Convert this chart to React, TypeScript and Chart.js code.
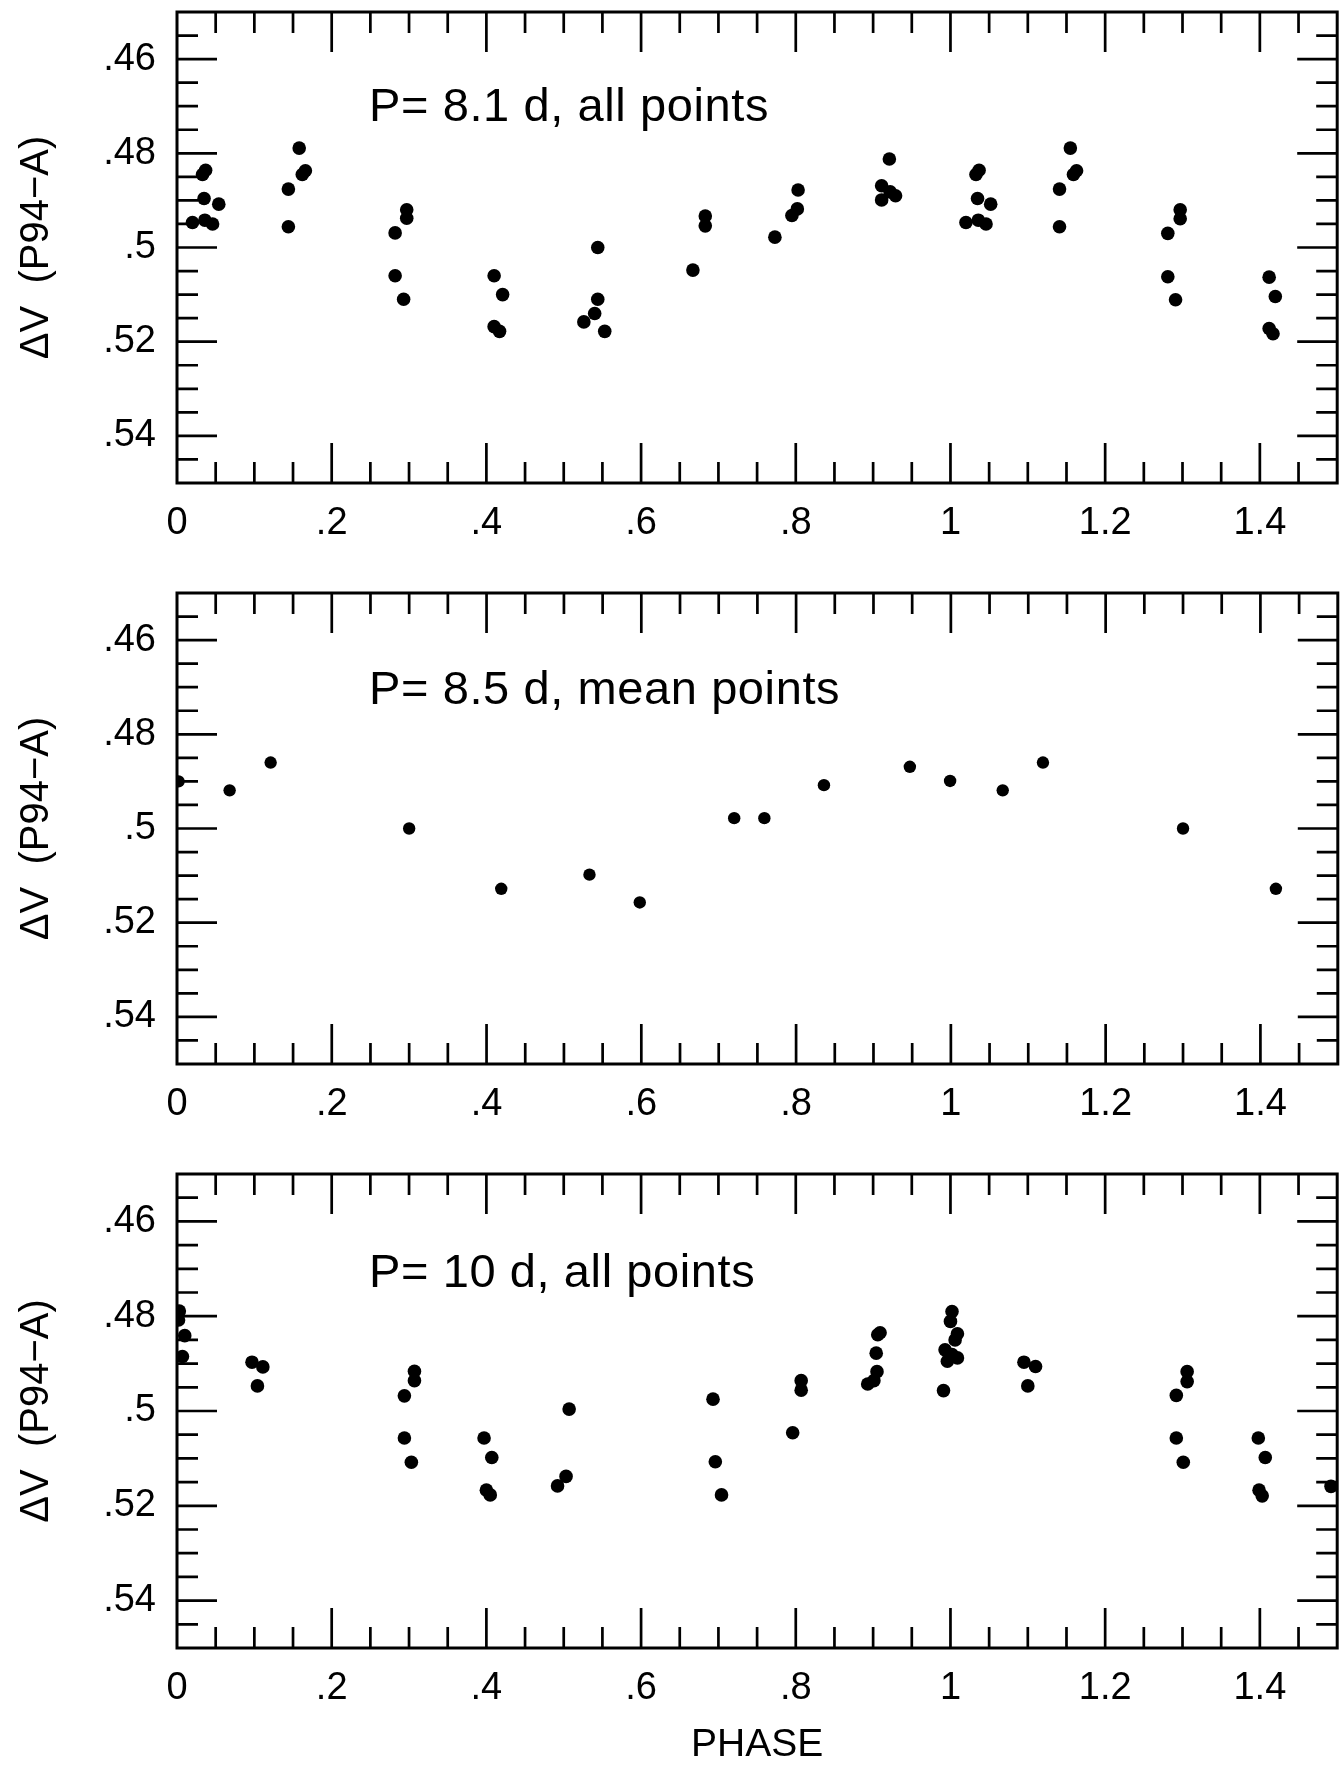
import React, { useEffect, useRef } from "react";
import { Chart, registerables } from "chart.js";

Chart.register(...registerables);

// ---------- data ----------
const X_TICKS = [0, 0.2, 0.4, 0.6, 0.8, 1.0, 1.2, 1.4];
const X_TICK_LABELS = ["0", ".2", ".4", ".6", ".8", "1", "1.2", "1.4"];
const Y_TICKS = [0.46, 0.48, 0.5, 0.52, 0.54];
const Y_TICK_LABELS = [".46", ".48", ".5", ".52", ".54"];
const X_MINOR_STEP = 0.05;
const Y_MINOR_STEP = 0.005;

const P1_LABEL = "P= 8.1 d, all points";
const P1_PHASE = [
  0.02, 0.033, 0.037, 0.035, 0.054, 0.036, 0.046, 0.144, 0.144, 0.158, 0.162, 0.166,
  0.282, 0.297, 0.297, 0.282, 0.293, 0.41, 0.421, 0.41, 0.417, 0.544, 0.544, 0.54,
  0.526, 0.553, 0.667, 0.683, 0.683, 0.773, 0.795, 0.802, 0.803, 0.921, 0.911, 0.911,
  0.922, 0.929, 1.02, 1.033, 1.037, 1.035, 1.052, 1.036, 1.046, 1.141, 1.141, 1.155,
  1.159, 1.163, 1.281, 1.297, 1.297, 1.281, 1.291, 1.412, 1.42, 1.412, 1.417,
];
const P1_DV = [
  0.4947, 0.4845, 0.4836, 0.4896, 0.4908, 0.4942, 0.495, 0.4876, 0.4956, 0.4789, 0.4845, 0.4837,
  0.4969, 0.492, 0.4938, 0.506, 0.511, 0.506, 0.51, 0.5168, 0.5178, 0.5, 0.511, 0.514,
  0.5158, 0.5178, 0.5048, 0.4933, 0.4954, 0.4978, 0.4932, 0.4918, 0.4878, 0.4812, 0.4869, 0.4899,
  0.4882, 0.489, 0.4947, 0.4845, 0.4836, 0.4896, 0.4908, 0.4942, 0.495, 0.4876, 0.4956, 0.4789,
  0.4845, 0.4837, 0.497, 0.492, 0.4939, 0.5062, 0.5111, 0.5063, 0.5104, 0.5172, 0.5183,
];

const P2_LABEL = "P= 8.5 d, mean points";
const P2_PHASE = [
  0.002, 0.068, 0.121, 0.3, 0.419, 0.533, 0.598, 0.72, 0.759, 0.836, 0.947, 0.999,
  1.067, 1.119, 1.3, 1.42,
];
const P2_DV = [
  0.49, 0.4919, 0.486, 0.5, 0.5128, 0.5098, 0.5157, 0.4978, 0.4978, 0.4908, 0.4869, 0.4899,
  0.4919, 0.486, 0.5, 0.5128,
];

const P3_LABEL = "P= 10 d, all points";
const P3_PHASE = [
  0.003, 0.002, 0.01, 0.007, 0.097, 0.111, 0.104, 0.294, 0.307, 0.307, 0.294, 0.303,
  0.397, 0.407, 0.4, 0.405, 0.507, 0.503, 0.492, 0.693, 0.696, 0.704, 0.796, 0.807,
  0.807, 0.893, 0.901, 0.905, 0.904, 0.906, 0.909, 0.991, 1.002, 1.0, 1.009, 1.006,
  0.993, 1.002, 1.009, 0.996, 1.095, 1.11, 1.1, 1.292, 1.306, 1.306, 1.292, 1.301,
  1.398, 1.407, 1.399, 1.403, 1.492,
];
const P3_DV = [
  0.4789, 0.4808, 0.4841, 0.4885, 0.4897, 0.4907, 0.4947, 0.4968, 0.4916, 0.4936, 0.5057, 0.5108,
  0.5057, 0.5098, 0.5167, 0.5177, 0.4996, 0.5138, 0.5158, 0.4975, 0.5107, 0.5177, 0.5046, 0.4936,
  0.4956, 0.4943, 0.4936, 0.4917, 0.4878, 0.4839, 0.4835, 0.4957, 0.479, 0.4811, 0.4837, 0.485,
  0.4871, 0.4881, 0.4888, 0.4895, 0.4897, 0.4906, 0.4947, 0.4967, 0.4917, 0.4938, 0.5057, 0.5108,
  0.5057, 0.5098, 0.5167, 0.5179, 0.5159,
];

const Y_TITLE = "\u0394V  (P94\u2212A)";
const X_TITLE = "PHASE";

// ---------- styling ----------
const FONT = "'Liberation Sans', Arial, Helvetica, sans-serif";
const INK = "#000";

const framePlugin = {
  id: "frame",
  beforeDatasetsDraw(chart: any, _args: any, opts: any) {
    const { ctx, chartArea: a, scales } = chart;
    const xs = scales.x;
    const ys = scales.y;
    ctx.save();
    ctx.strokeStyle = INK;
    ctx.lineCap = "butt";
    // ticks
    ctx.lineWidth = 2.7;
    const LONG = 40;
    const SHORT = 21;
    const isMajor = (v: number, arr: number[]) => arr.some((t) => Math.abs(t - v) < 1e-9);
    ctx.beginPath();
    for (let i = 1; i * X_MINOR_STEP < xs.max - 1e-9; i++) {
      const v = Math.round(i * X_MINOR_STEP * 1000) / 1000;
      const len = isMajor(v, X_TICKS) ? LONG : SHORT;
      const px = xs.getPixelForValue(v);
      ctx.moveTo(px, a.bottom);
      ctx.lineTo(px, a.bottom - len);
      ctx.moveTo(px, a.top);
      ctx.lineTo(px, a.top + len);
    }
    for (let i = 1; ys.min + i * Y_MINOR_STEP < ys.max - 1e-9; i++) {
      const v = Math.round((ys.min + i * Y_MINOR_STEP) * 10000) / 10000;
      const len = isMajor(v, Y_TICKS) ? LONG : SHORT;
      const py = ys.getPixelForValue(v);
      ctx.moveTo(a.left, py);
      ctx.lineTo(a.left + len, py);
      ctx.moveTo(a.right, py);
      ctx.lineTo(a.right - len, py);
    }
    ctx.stroke();
    // frame
    ctx.lineWidth = 3;
    ctx.strokeRect(a.left, a.top, a.right - a.left, a.bottom - a.top);
    // annotation
    if (opts && opts.label) {
      ctx.fillStyle = INK;
      ctx.font = `47px ${FONT}`;
      try {
        (ctx as any).letterSpacing = "0.6px";
      } catch (e) {}
      ctx.textAlign = "left";
      ctx.textBaseline = "alphabetic";
      ctx.fillText(opts.label, a.left + 192, a.top + opts.baseline);
    }
    ctx.restore();
  },
};

type PanelDef = {
  phase: number[];
  dv: number[];
  label: string;
  baseline: number;
  radius: number;
  top: number;
  height: number;
  xAxisHeight: number;
  showXTitle: boolean;
};

const PANELS: PanelDef[] = [
  { phase: P1_PHASE, dv: P1_DV, label: P1_LABEL, baseline: 109, radius: 6.8, top: 0, height: 581, xAxisHeight: 98, showXTitle: false },
  { phase: P2_PHASE, dv: P2_DV, label: P2_LABEL, baseline: 111, radius: 6.2, top: 581, height: 581, xAxisHeight: 98, showXTitle: false },
  { phase: P3_PHASE, dv: P3_DV, label: P3_LABEL, baseline: 113, radius: 6.8, top: 1162, height: 603, xAxisHeight: 117, showXTitle: true },
];

function Panel({ def }: { def: PanelDef }) {
  const ref = useRef<HTMLCanvasElement | null>(null);
  useEffect(() => {
    if (!ref.current) return;
    const data = def.phase.map((x, i) => ({ x, y: def.dv[i] }));
    const chart = new Chart(ref.current, {
      type: "scatter",
      data: {
        datasets: [
          {
            data,
            pointRadius: def.radius,
            pointBackgroundColor: INK,
            pointBorderWidth: 0,
            pointHoverRadius: def.radius,
            clip: 0,
          } as any,
        ],
      },
      options: {
        animation: false,
        responsive: false,
        devicePixelRatio: 1,
        events: [],
        layout: { padding: { left: 0, right: 5, top: 12, bottom: 0 } },
        plugins: {
          legend: { display: false },
          tooltip: { enabled: false },
          frame: { label: def.label, baseline: def.baseline },
        } as any,
        scales: {
          x: {
            type: "linear",
            position: "bottom",
            min: 0,
            max: 1.5,
            afterBuildTicks: (s: any) => {
              s.ticks = X_TICKS.map((v) => ({ value: v }));
            },
            afterFit: (s: any) => {
              s.height = def.xAxisHeight;
              s.paddingLeft = 0;
              s.paddingRight = 0;
              s.paddingTop = 0;
              s.paddingBottom = 0;
            },
            grid: { display: false, drawTicks: false },
            border: { display: false },
            ticks: {
              autoSkip: false,
              maxRotation: 0,
              padding: 22,
              color: INK,
              font: { family: FONT, size: 38, lineHeight: 1 },
              callback: (_v: any, i: number) => X_TICK_LABELS[i],
            },
            title: {
              display: def.showXTitle,
              text: X_TITLE,
              color: INK,
              padding: 0,
              font: { family: FONT, size: 39, lineHeight: 1 },
            },
          },
          y: {
            type: "linear",
            position: "left",
            min: 0.45,
            max: 0.55,
            reverse: true,
            afterBuildTicks: (s: any) => {
              s.ticks = Y_TICKS.map((v) => ({ value: v }));
            },
            afterFit: (s: any) => {
              s.width = 177;
              s.paddingLeft = 0;
              s.paddingRight = 0;
              s.paddingTop = 0;
              s.paddingBottom = 0;
            },
            grid: { display: false, drawTicks: false },
            border: { display: false },
            ticks: {
              autoSkip: false,
              padding: 21,
              color: INK,
              font: { family: FONT, size: 38, lineHeight: 1 },
              callback: (_v: any, i: number) => Y_TICK_LABELS[i],
            },
            title: {
              display: true,
              text: Y_TITLE,
              color: INK,
              padding: { top: 17, bottom: 0 },
              font: { family: FONT, size: 40, lineHeight: 1 },
            },
          },
        },
      } as any,
      plugins: [framePlugin],
    });
    return () => chart.destroy();
  }, [def]);
  return (
    <canvas
      ref={ref}
      width={1344}
      height={def.height}
      style={{ position: "absolute", left: 0, top: def.top, width: 1344, height: def.height, display: "block" }}
    />
  );
}

export default function App() {
  return (
    <div
      style={{
        position: "absolute",
        left: 0,
        top: 0,
        width: 1344,
        height: 1765,
        background: "#fff",
        overflow: "hidden",
      }}
    >
      {PANELS.map((p, i) => (
        <Panel key={i} def={p} />
      ))}
    </div>
  );
}
